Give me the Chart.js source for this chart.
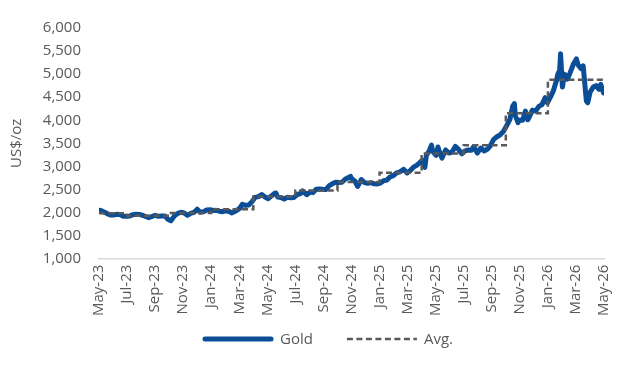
<!DOCTYPE html>
<html>
<head>
<meta charset="utf-8">
<script src="https://cdn.jsdelivr.net/npm/chart.js@4.4.1/dist/chart.umd.min.js"></script>
<style>
  html, body { margin: 0; padding: 0; background: #fff; }
  #wrap { width: 628px; height: 374px; }
</style>
</head>
<body>
<div id="wrap"><canvas id="gold"></canvas></div>
<script>
// bottom axis labels, one every two months from May-23
const tickLabels = ['May-23', 'Jul-23', 'Sep-23', 'Nov-23', 'Jan-24', 'Mar-24', 'May-24',
  'Jul-24', 'Sep-24', 'Nov-24', 'Jan-25', 'Mar-25', 'May-25', 'Jul-25', 'Sep-25',
  'Nov-25', 'Jan-26', 'Mar-26', 'May-26'];

// gold spot, US$/oz
const goldDates = [
  '2023-05-01', '2023-05-04', '2023-05-12', '2023-05-19', '2023-05-26', '2023-06-02', '2023-06-09',
  '2023-06-16', '2023-06-23', '2023-06-30', '2023-07-07', '2023-07-14', '2023-07-21', '2023-07-28',
  '2023-08-04', '2023-08-11', '2023-08-18', '2023-08-25', '2023-09-01', '2023-09-08', '2023-09-15',
  '2023-09-22', '2023-09-29', '2023-10-05', '2023-10-13', '2023-10-20', '2023-10-27', '2023-11-03',
  '2023-11-10', '2023-11-17', '2023-11-24', '2023-12-01', '2023-12-08', '2023-12-15', '2023-12-22',
  '2023-12-29', '2024-01-05', '2024-01-12', '2024-01-19', '2024-01-26', '2024-02-02', '2024-02-09',
  '2024-02-14', '2024-02-23', '2024-03-01', '2024-03-08', '2024-03-15', '2024-03-22', '2024-03-29',
  '2024-04-05', '2024-04-12', '2024-04-19', '2024-04-26', '2024-05-03', '2024-05-10', '2024-05-17',
  '2024-05-20', '2024-05-24', '2024-05-31', '2024-06-07', '2024-06-14', '2024-06-21', '2024-06-28',
  '2024-07-05', '2024-07-12', '2024-07-17', '2024-07-26', '2024-08-02', '2024-08-09', '2024-08-16',
  '2024-08-23', '2024-08-30', '2024-09-06', '2024-09-13', '2024-09-20', '2024-09-27', '2024-10-04',
  '2024-10-11', '2024-10-18', '2024-10-30', '2024-11-01', '2024-11-08', '2024-11-14', '2024-11-22',
  '2024-11-29', '2024-12-06', '2024-12-13', '2024-12-20', '2024-12-27', '2025-01-03', '2025-01-10',
  '2025-01-17', '2025-01-24', '2025-01-31', '2025-02-07', '2025-02-14', '2025-02-21', '2025-02-28',
  '2025-03-07', '2025-03-14', '2025-03-21', '2025-03-28', '2025-04-02', '2025-04-08', '2025-04-11',
  '2025-04-17', '2025-04-22', '2025-04-25', '2025-05-02', '2025-05-06', '2025-05-09', '2025-05-15',
  '2025-05-23', '2025-05-30', '2025-06-06', '2025-06-13', '2025-06-20', '2025-06-27', '2025-07-04',
  '2025-07-11', '2025-07-18', '2025-07-23', '2025-07-31', '2025-08-08', '2025-08-15', '2025-08-22',
  '2025-08-29', '2025-09-05', '2025-09-12', '2025-09-19', '2025-09-26', '2025-10-03', '2025-10-10',
  '2025-10-16', '2025-10-20', '2025-10-22', '2025-10-28', '2025-10-31', '2025-11-07', '2025-11-13',
  '2025-11-18', '2025-11-21', '2025-11-28', '2025-12-05', '2025-12-12', '2025-12-19', '2025-12-26',
  '2025-12-31', '2026-01-06', '2026-01-13', '2026-01-20', '2026-01-23', '2026-01-27', '2026-01-29',
  '2026-02-02', '2026-02-06', '2026-02-12', '2026-02-18', '2026-02-24', '2026-03-02', '2026-03-06',
  '2026-03-12', '2026-03-17', '2026-03-20', '2026-03-24', '2026-03-27', '2026-04-01', '2026-04-08',
  '2026-04-14', '2026-04-20', '2026-04-24', '2026-04-30'];

const goldPrices = [
  2035, 2050, 2011, 1977, 1946, 1948, 1961,
  1958, 1921, 1919, 1925, 1955, 1962, 1959,
  1942, 1914, 1889, 1914, 1940, 1919, 1924,
  1925, 1848, 1820, 1932, 1981, 2006, 1992,
  1940, 1981, 2002, 2072, 2004, 2019, 2053,
  2063, 2045, 2049, 2029, 2018, 2039, 2024,
  1992, 2036, 2083, 2179, 2155, 2165, 2233,
  2329, 2344, 2392, 2337, 2301, 2360, 2415,
  2425, 2334, 2327, 2294, 2332, 2322, 2326,
  2391, 2411, 2470, 2387, 2443, 2431, 2507,
  2512, 2503, 2497, 2577, 2622, 2658, 2653,
  2657, 2721, 2785, 2736, 2685, 2565, 2715,
  2650, 2633, 2648, 2622, 2621, 2640, 2690,
  2703, 2770, 2798, 2861, 2883, 2936, 2858,
  2910, 2984, 3023, 3085, 3130, 2980, 3237,
  3330, 3460, 3319, 3241, 3420, 3325, 3180,
  3357, 3289, 3310, 3433, 3368, 3274, 3337,
  3355, 3350, 3430, 3290, 3398, 3336, 3371,
  3448, 3586, 3643, 3685, 3760, 3886, 4018,
  4300, 4360, 4100, 3950, 4000, 4000, 4200,
  4010, 4065, 4220, 4200, 4300, 4340, 4490,
  4380, 4490, 4637, 4860, 5000, 5080, 5440,
  4720, 5000, 4890, 5050, 5220, 5330, 5200,
  5120, 5180, 4850, 4420, 4380, 4600, 4720,
  4750, 4670, 4780, 4590];

// quarterly average, each level held from its quarter start
const quarterStarts = ['2023-05-01', '2023-07-01', '2023-10-01', '2024-01-01', '2024-04-01',
  '2024-07-01', '2024-10-01', '2025-01-01', '2025-04-01', '2025-07-01', '2025-10-01',
  '2026-01-01', '2026-04-30'];
const quarterAvg = [1983, 1929, 1990, 2069, 2350, 2477, 2663, 2860, 3280, 3457, 4150, 4880, 4880];

// date string -> months since 1 May 2023
const monthsFrom = s => {
  const [y, m, d] = s.split('-').map(Number);
  const days = new Date(y, m, 0).getDate();
  return (y - 2023) * 12 + (m - 5) + (d - 1) / days;
};

const grey = '#595959';
const font = { family: 'Open Sans', size: 15 };

// legend under the axis labels: line sample, then the series name
const bottomLegend = {
  id: 'bottomLegend',
  afterDraw(chart) {
    const { ctx } = chart;
    const y = chart.height - 35;
    const sample = 70, textGap = 7, itemGap = 34;
    ctx.save();
    ctx.font = `${font.size}px ${font.family}`;
    ctx.textBaseline = 'middle';
    const items = chart.data.datasets.map(ds => ({ ds, w: sample + textGap + ctx.measureText(ds.label).width }));
    const total = items.reduce((a, it) => a + it.w, 0) + itemGap * (items.length - 1);
    let x = chart.width / 2 + 14 - total / 2;
    items.forEach(({ ds, w }) => {
      ctx.beginPath();
      ctx.strokeStyle = ds.borderColor;
      ctx.lineWidth = ds.borderWidth;
      ctx.lineCap = ds.borderDash ? 'butt' : 'round';
      ctx.setLineDash(ds.borderDash || []);
      ctx.moveTo(x + (ds.borderDash ? 0 : 2), y);
      ctx.lineTo(x + sample - (ds.borderDash ? 0 : 2), y);
      ctx.stroke();
      ctx.setLineDash([]);
      ctx.fillStyle = grey;
      ctx.fillText(ds.label, x + sample + textGap, y + 1);
      x += w + itemGap;
    });
    ctx.restore();
  },
};

new Chart(document.getElementById('gold'), {
  type: 'line',
  data: {
    datasets: [
      {
        label: 'Gold',
        data: goldDates.map((d, i) => ({ x: monthsFrom(d), y: goldPrices[i] })),
        borderColor: '#0b4d96',
        borderWidth: 5,
        borderCapStyle: 'round',
        borderJoinStyle: 'round',
        pointRadius: 0,
        order: 1,
      },
      {
        label: 'Avg.',
        data: quarterStarts.map((d, i) => ({ x: monthsFrom(d), y: quarterAvg[i] })),
        stepped: 'before',
        borderColor: grey,
        borderWidth: 2.5,
        borderDash: [6, 3.5],
        pointRadius: 0,
        order: 0,
      },
    ],
  },
  options: {
    responsive: true,
    maintainAspectRatio: false,
    animation: false,
    layout: { padding: { top: 28, right: 8, bottom: 52, left: 4 } },
    plugins: {
      tooltip: { enabled: false },
      legend: { display: false },
    },
    scales: {
      x: {
        type: 'linear',
        min: 0,
        max: 36,
        grid: { display: false, drawTicks: false },
        border: { display: true, color: '#d9d9d9', width: 1.5 },
        ticks: {
          stepSize: 2,
          autoSkip: false,
          minRotation: 90,
          maxRotation: 90,
          padding: 6,
          color: grey,
          font: font,
          callback: v => tickLabels[Math.round(v / 2)],
        },
      },
      y: {
        min: 1000,
        max: 6000,
        grid: { display: false, drawTicks: false },
        border: { display: false },
        title: { display: true, text: 'US$/oz', color: grey, font: font, padding: { top: 4, bottom: 4 } },
        ticks: {
          stepSize: 500,
          padding: 18,
          color: grey,
          font: font,
          callback: v => v.toLocaleString('en-US'),
        },
        afterFit: s => { s.width = 95; },
      },
    },
  },
  plugins: [bottomLegend],
});
</script>
</body>
</html>
